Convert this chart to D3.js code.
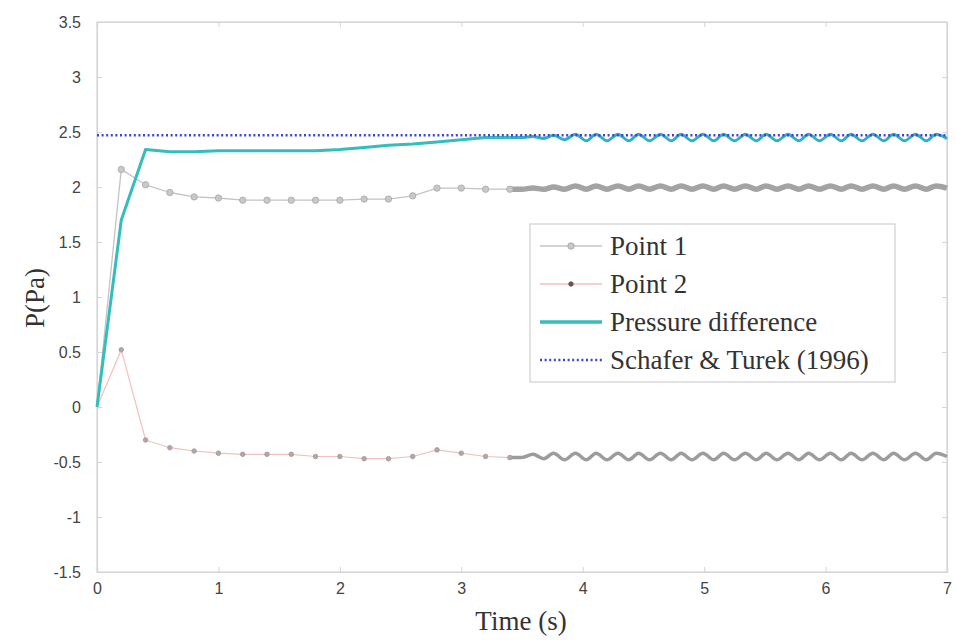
<!DOCTYPE html>
<html>
<head>
<meta charset="utf-8">
<script src="https://cdn.jsdelivr.net/npm/d3@7"></script>
<style>
  html, body { margin: 0; padding: 0; background: #fff; }
  svg { display: block; }
</style>
</head>
<body>
<svg id="chart" width="956" height="640"></svg>
<script>
// Start-up phase, sampled every 0.2 s
const timeStart = [0, 0.2, 0.4, 0.6, 0.8, 1.0, 1.2, 1.4, 1.6, 1.8, 2.0, 2.2, 2.4, 2.6, 2.8, 3.0, 3.2, 3.4];
const point1Start = [0, 2.16, 2.02, 1.95, 1.91, 1.90, 1.88, 1.88, 1.88, 1.88, 1.88, 1.89, 1.89, 1.92, 1.99, 1.99, 1.98, 1.98];
const point2Start = [0, 0.52, -0.30, -0.37, -0.40, -0.42, -0.43, -0.43, -0.43, -0.45, -0.45, -0.47, -0.47, -0.45, -0.39, -0.42, -0.45, -0.46];
const pressureStart = [0, 1.70, 2.34, 2.32, 2.32, 2.33, 2.33, 2.33, 2.33, 2.33, 2.34, 2.36, 2.38, 2.39, 2.41, 2.43, 2.45, 2.45];

// Periodic phase (vortex shedding), peaks and troughs
const timePeriodic = [3.50, 3.59, 3.68, 3.76, 3.85, 3.94, 4.03, 4.11, 4.20, 4.29, 4.38, 4.46, 4.55, 4.64,
  4.73, 4.81, 4.90, 4.99, 5.08, 5.16, 5.25, 5.34, 5.43, 5.51, 5.60, 5.69, 5.78, 5.86, 5.95, 6.04,
  6.13, 6.21, 6.30, 6.39, 6.48, 6.56, 6.65, 6.74, 6.83, 6.91, 7.00];
const point1Periodic = [1.98, 1.99, 1.98, 2.00, 1.98, 2.01, 1.98, 2.01, 1.98, 2.01, 1.98, 2.01, 1.98, 2.01,
  1.98, 2.01, 1.98, 2.01, 1.98, 2.01, 1.98, 2.01, 1.98, 2.01, 1.98, 2.01, 1.98, 2.01, 1.98, 2.01,
  1.98, 2.01, 1.98, 2.01, 1.98, 2.01, 1.98, 2.01, 1.98, 2.01, 1.99];
const point2Periodic = [-0.46, -0.43, -0.47, -0.42, -0.48, -0.42, -0.48, -0.42, -0.48, -0.42, -0.48, -0.42, -0.48, -0.42,
  -0.48, -0.42, -0.48, -0.42, -0.48, -0.42, -0.48, -0.42, -0.48, -0.42, -0.48, -0.42, -0.48, -0.42, -0.48, -0.42,
  -0.48, -0.42, -0.48, -0.42, -0.48, -0.42, -0.48, -0.42, -0.48, -0.42, -0.45];
const pressurePeriodic = [2.45, 2.46, 2.44, 2.47, 2.43, 2.48, 2.42, 2.48, 2.42, 2.48, 2.42, 2.48, 2.42, 2.48,
  2.42, 2.48, 2.42, 2.48, 2.42, 2.48, 2.42, 2.48, 2.42, 2.48, 2.42, 2.48, 2.42, 2.48, 2.42, 2.48,
  2.42, 2.48, 2.42, 2.48, 2.42, 2.48, 2.42, 2.48, 2.42, 2.48, 2.44];

// Reference value
const referenceTime = [0, 7];
const referenceValue = [2.47, 2.47];

const xTicks = [0, 1, 2, 3, 4, 5, 6, 7];
const yTicks = [-1.5, -1, -0.5, 0, 0.5, 1, 1.5, 2, 2.5, 3, 3.5];
const legendLabels = ["Point 1", "Point 2", "Pressure difference", "Schafer & Turek (1996)"];

const svg = d3.select("#chart");
const x = d3.scaleLinear().domain([0, 7]).range([97, 947]);
const y = d3.scaleLinear().domain([-1.5, 3.5]).range([572, 22]);

const boxColor = "#d6d6d6";
const tickFont = "Liberation Sans, Arial, sans-serif";
const serif = "Liberation Serif, Times New Roman, serif";

// Axes frame
svg.append("rect")
  .attr("x", x(0)).attr("y", y(3.5))
  .attr("width", x(7) - x(0)).attr("height", y(-1.5) - y(3.5))
  .attr("fill", "none").attr("stroke", boxColor).attr("stroke-width", 1.2);

// Bottom / left axes with inward ticks
const xAxis = d3.axisBottom(x).tickValues(xTicks).tickSize(-5).tickPadding(11).tickFormat(d3.format("d"));
const gx = svg.append("g").attr("transform", `translate(0,${y(-1.5)})`).call(xAxis);
const yAxis = d3.axisLeft(y).tickValues(yTicks).tickSize(-5).tickPadding(16).tickFormat(d => String(d));
const gy = svg.append("g").attr("transform", `translate(${x(0)},0)`).call(yAxis);
// Mirrored ticks on top and right
const gx2 = svg.append("g").attr("transform", `translate(0,${y(3.5)})`)
  .call(d3.axisTop(x).tickValues(xTicks).tickSize(-5).tickFormat(""));
const gy2 = svg.append("g").attr("transform", `translate(${x(7)},0)`)
  .call(d3.axisRight(y).tickValues(yTicks).tickSize(-5).tickFormat(""));

[gx, gy, gx2, gy2].forEach(g => {
  g.select(".domain").attr("stroke", boxColor).attr("stroke-width", 1.2);
  g.selectAll(".tick line").attr("stroke", boxColor);
  g.selectAll(".tick text").attr("fill", "#444")
    .style("font-family", tickFont).style("font-size", "16px");
});

// Axis titles
svg.append("text")
  .attr("x", 521).attr("y", 630)
  .attr("text-anchor", "middle")
  .style("font-family", serif).style("font-size", "27px").attr("fill", "#333")
  .text("Time (s)");
svg.append("text")
  .attr("transform", "translate(44,298) rotate(-90)")
  .attr("text-anchor", "middle")
  .style("font-family", serif).style("font-size", "27px").attr("fill", "#333")
  .text("P(Pa)");

const lineLinear = d3.line().x(d => x(d[0])).y(d => y(d[1]));
const lineSmooth = d3.line().x(d => x(d[0])).y(d => y(d[1])).curve(d3.curveMonotoneX);

const zipPairs = (ts, vs) => ts.map((t, i) => [t, vs[i]]);
const last = a => a[a.length - 1];

function drawSeries(startVals, periodicVals, opts) {
  const startPts = zipPairs(timeStart, startVals);
  const perPts = [last(startPts)].concat(zipPairs(timePeriodic, periodicVals));
  svg.append("path").datum(startPts).attr("d", lineLinear)
    .attr("fill", "none").attr("stroke", opts.color).attr("stroke-width", opts.width)
    .attr("stroke-linejoin", "round");
  svg.append("path").datum(perPts).attr("d", lineSmooth)
    .attr("fill", "none").attr("stroke", opts.periodicColor).attr("stroke-width", opts.periodicWidth)
    .attr("stroke-linejoin", "round");
  if (opts.marker) {
    svg.append("g").selectAll("circle").data(startPts.slice(1)).join("circle")
      .attr("cx", d => x(d[0])).attr("cy", d => y(d[1]))
      .attr("r", opts.marker.r).attr("fill", opts.marker.fill)
      .attr("stroke", opts.marker.stroke).attr("stroke-width", 0.8);
  }
}

// Point 1
drawSeries(point1Start, point1Periodic, {
  color: "#c4c4c4", width: 1.3, periodicColor: "#a3a3a3", periodicWidth: 5.5,
  marker: { r: 3.2, fill: "#c8c8c8", stroke: "#a8a8a8" }
});
// Point 2
drawSeries(point2Start, point2Periodic, {
  color: "#f3c0c0", width: 1.2, periodicColor: "#9c9c9c", periodicWidth: 3.5,
  marker: { r: 2.3, fill: "#b0a8a8", stroke: "#a09a9a" }
});
// Pressure difference
drawSeries(pressureStart, pressurePeriodic, {
  color: "#35bcbc", width: 3, periodicColor: "#2fb0c4", periodicWidth: 3
});

// Reference line
svg.append("path").datum(zipPairs(referenceTime, referenceValue)).attr("d", lineLinear)
  .attr("fill", "none").attr("stroke", "#3c44d2").attr("stroke-width", 2.4)
  .attr("stroke-dasharray", "2,2.6");

// Legend
const legend = svg.append("g");
legend.append("rect")
  .attr("x", 530).attr("y", 224).attr("width", 365).attr("height", 158)
  .attr("fill", "#fff").attr("stroke", "#cfcfcf").attr("stroke-width", 1.2);
const rowY = [246, 284, 322, 360];
const styles = [
  { stroke: "#c4c4c4", width: 1.3, dash: null, marker: { r: 3.2, fill: "#c8c8c8", stroke: "#a0a0a0" } },
  { stroke: "#f3c0c0", width: 1.3, dash: null, marker: { r: 2.3, fill: "#6a5555", stroke: "#6a5555" } },
  { stroke: "#35bcbc", width: 3.5, dash: null, marker: null },
  { stroke: "#3c44d2", width: 2.4, dash: "2,2.6", marker: null }
];
legendLabels.forEach((label, i) => {
  const s = styles[i];
  legend.append("line")
    .attr("x1", 540).attr("x2", 602).attr("y1", rowY[i]).attr("y2", rowY[i])
    .attr("stroke", s.stroke).attr("stroke-width", s.width)
    .attr("stroke-dasharray", s.dash);
  if (s.marker) {
    legend.append("circle").attr("cx", 571).attr("cy", rowY[i]).attr("r", s.marker.r)
      .attr("fill", s.marker.fill).attr("stroke", s.marker.stroke).attr("stroke-width", 0.8);
  }
  legend.append("text")
    .attr("x", 610).attr("y", rowY[i]).attr("dy", "0.35em")
    .style("font-family", serif).style("font-size", "27px").attr("fill", "#333")
    .text(label);
});
</script>
</body>
</html>
